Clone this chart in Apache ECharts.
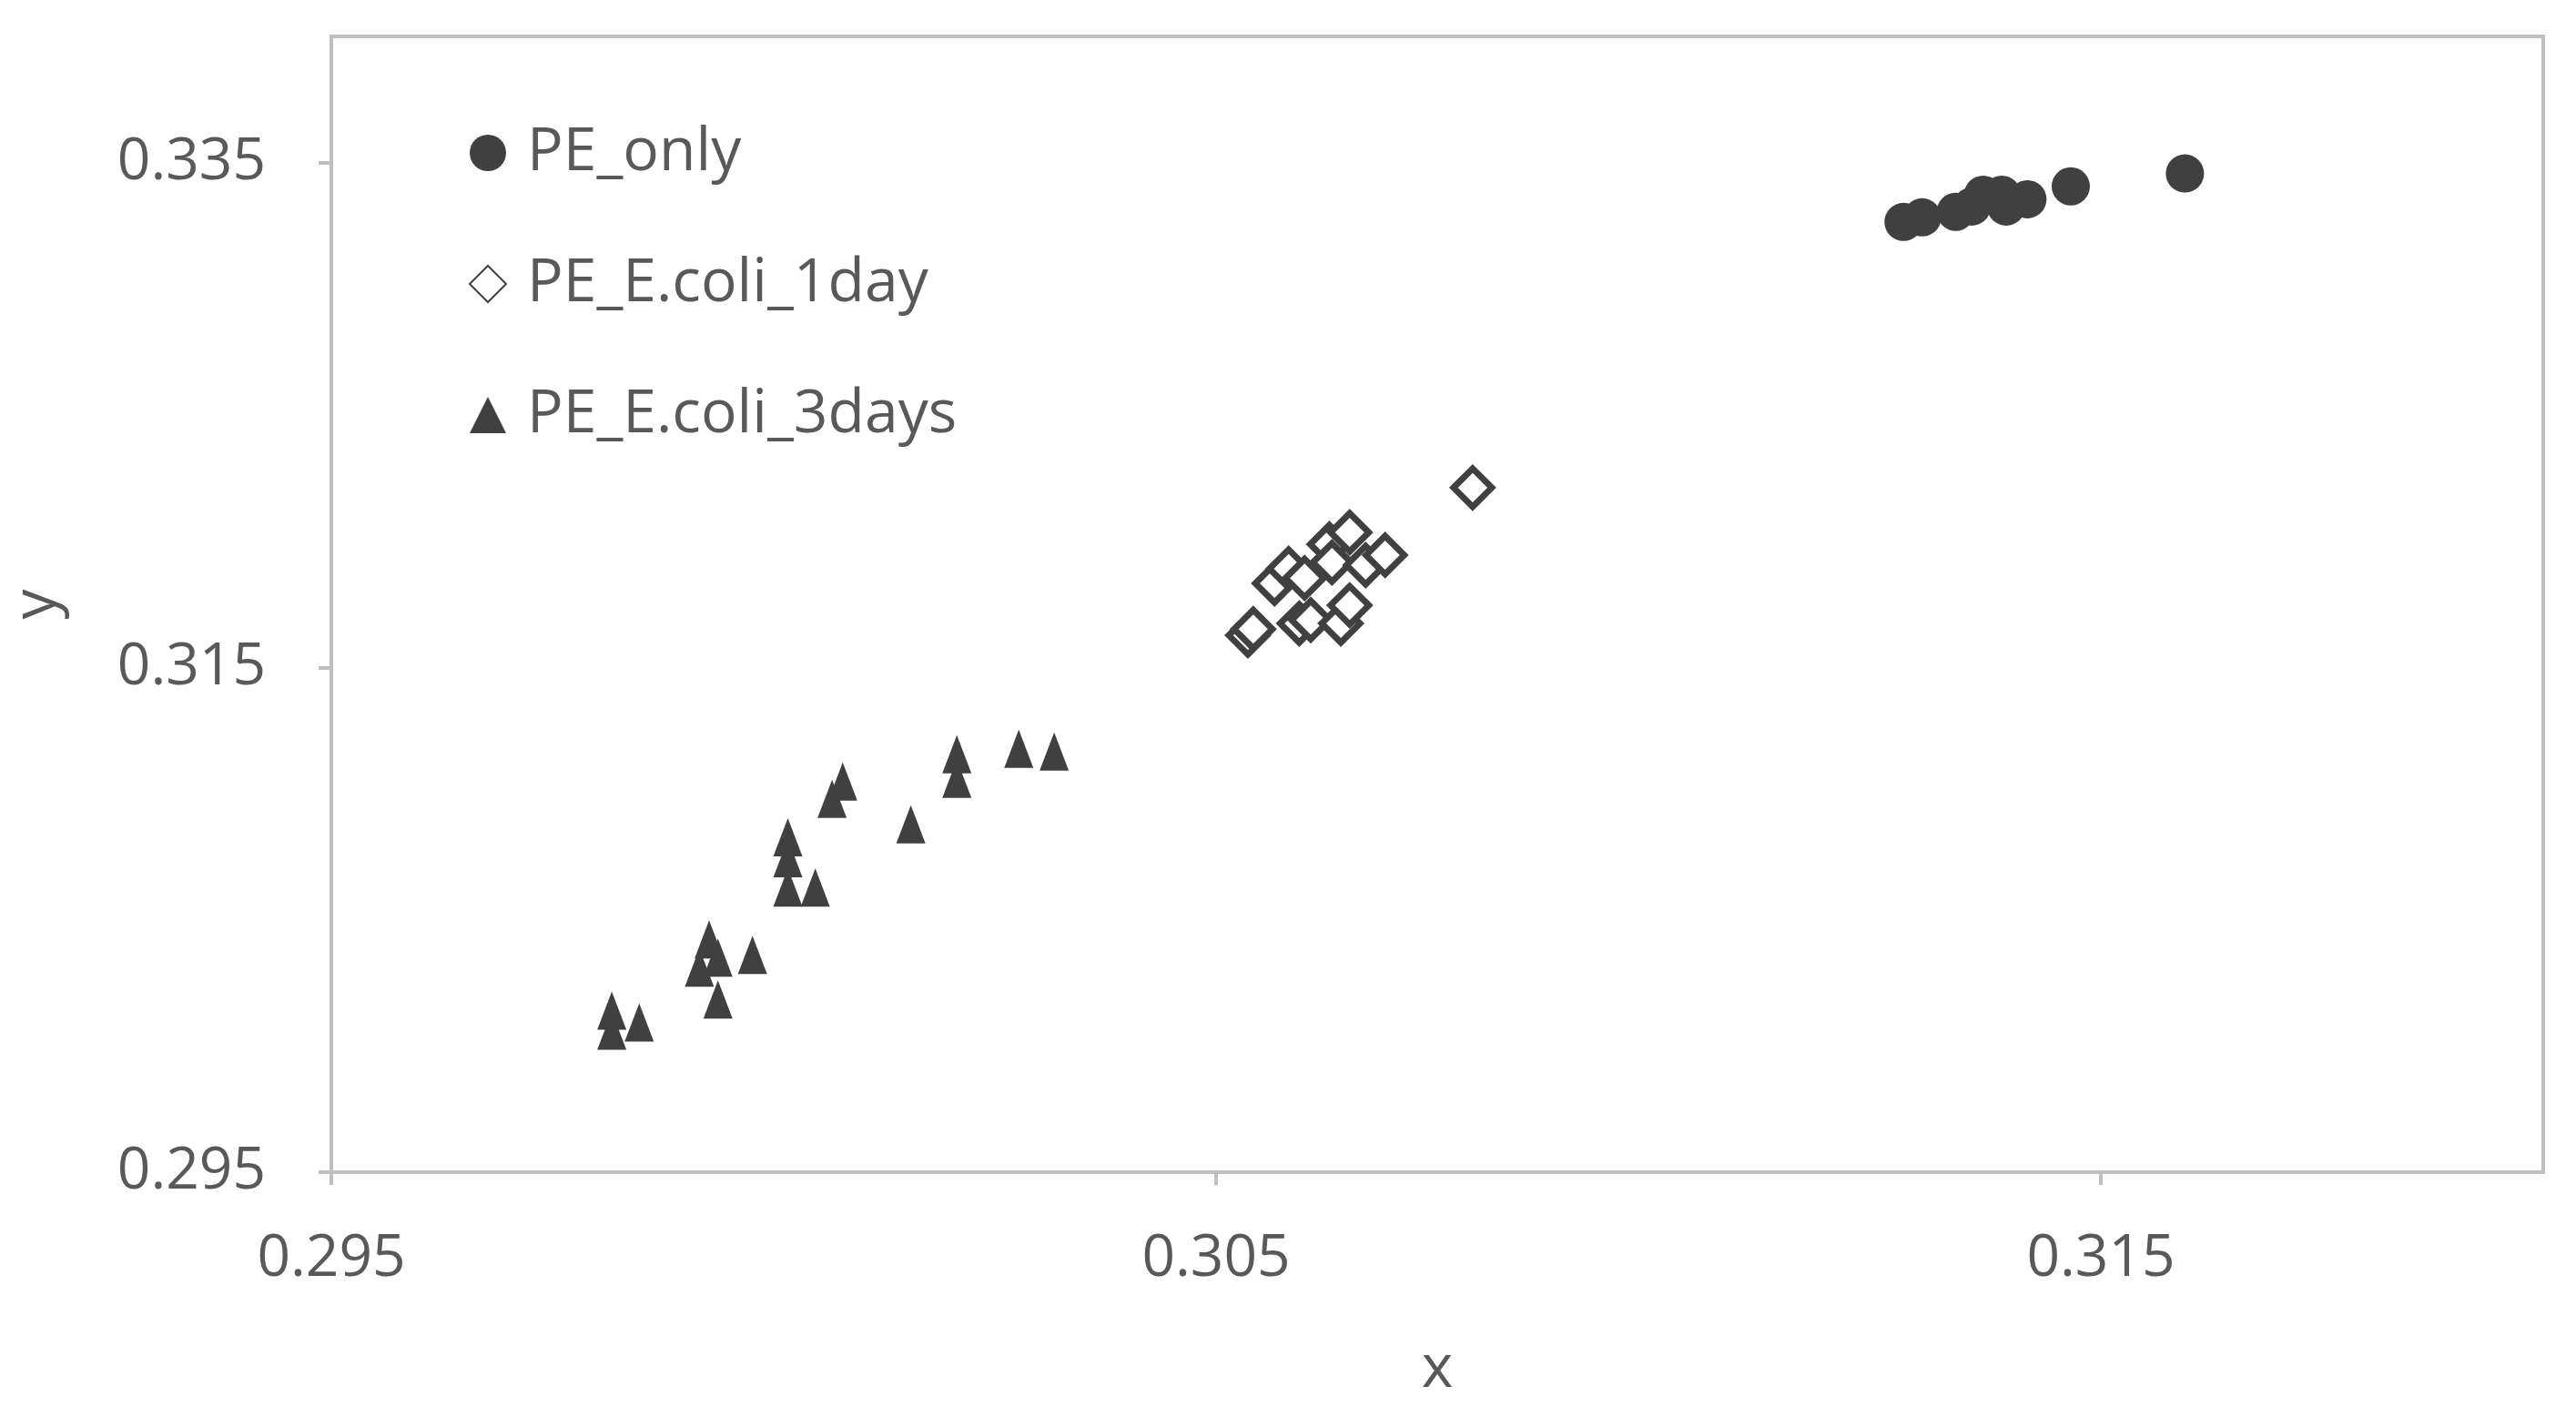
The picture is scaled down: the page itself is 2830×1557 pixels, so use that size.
<!DOCTYPE html>
<html>
<head>
<meta charset="utf-8">
<script src="https://cdn.jsdelivr.net/npm/echarts@6/dist/echarts.min.js"></script>
<style>html,body{margin:0;padding:0;background:#fff}#main{width:2830px;height:1557px}</style>
</head>
<body>
<div id="main"></div>
<script>
// values, [x, y]
const peOnly = [
  [0.31277, 0.33265], [0.31298, 0.33283], [0.31336, 0.33305], [0.31354, 0.33326],
  [0.31367, 0.33373], [0.31388, 0.33373], [0.31393, 0.33326], [0.31417, 0.33355],
  [0.31466, 0.33406], [0.31595, 0.33457]
];
const peEcoli1day = [
  [0.30536, 0.31627], [0.30542, 0.31652], [0.30566, 0.31833], [0.30582, 0.31891],
  [0.30600, 0.31854], [0.30594, 0.31674], [0.30607, 0.31688], [0.30628, 0.31988],
  [0.30631, 0.31916], [0.30651, 0.32035], [0.30641, 0.31674], [0.30651, 0.31746],
  [0.30669, 0.31905], [0.30691, 0.31945], [0.30790, 0.32212]
];
const peEcoli3days = [
  [0.29817, 0.30140], [0.29817, 0.30061], [0.29848, 0.30093], [0.29927, 0.30422],
  [0.29916, 0.30310], [0.29937, 0.30350], [0.29937, 0.30184], [0.29976, 0.30361],
  [0.30016, 0.30827], [0.30016, 0.30744], [0.30016, 0.30628], [0.30047, 0.30628],
  [0.30078, 0.31048], [0.30066, 0.30979], [0.30155, 0.30878], [0.30207, 0.31156],
  [0.30207, 0.31059], [0.30277, 0.31178], [0.30317, 0.31167]
];
const seriesNames = ["PE_only", "PE_E.coli_1day", "PE_E.coli_3days"];

const font = "'Liberation Sans Narrow', 'Open Sans', sans-serif";
const dark = "#404040";
const axisGrey = "#bfbfbf";
const textGrey = "#595959";

function valueAxis(name, min, max, interval, nameGap, labelMargin, extra) {
  return Object.assign({
    type: "value", name: name, nameLocation: "middle", nameGap: nameGap,
    min: min, max: max, interval: interval,
    nameTextStyle: { fontFamily: font, fontSize: 66, color: textGrey },
    axisLine: { show: true, lineStyle: { color: axisGrey, width: 4 } },
    axisTick: { show: true, length: 14, lineStyle: { color: axisGrey, width: 4 } },
    splitLine: { show: false },
    axisLabel: {
      fontFamily: font, fontSize: 64, color: textGrey, margin: labelMargin,
      showMaxLabel: false, formatter: (v) => v.toFixed(3)
    }
  }, extra);
}

let myChart = echarts.init(document.getElementById("main"));
myChart.setOption({
  animation: false,
  backgroundColor: "#fff",
  grid: { left: 357, right: 36, top: 40, bottom: 269, show: true, borderColor: axisGrey, borderWidth: 4 },
  legend: {
    orient: "vertical", left: 510, top: 130, itemGap: 78, itemWidth: 40, itemHeight: 40,
    textStyle: { fontFamily: font, fontSize: 66, color: textGrey, padding: [0, 0, 0, 18] },
    data: seriesNames
  },
  xAxis: valueAxis("x", 0.295, 0.32, 0.01, 184, 64),
  yAxis: valueAxis("y", 0.295, 0.34, 0.02, 290, 72, { nameRotate: 90 }),
  series: [
    { name: seriesNames[0], type: "scatter", data: peOnly, symbol: "circle", symbolSize: 42,
      itemStyle: { color: dark, opacity: 1 } },
    { name: seriesNames[1], type: "scatter", data: peEcoli1day, symbol: "diamond", symbolSize: [42, 42],
      itemStyle: { color: "#fff", borderColor: dark, borderWidth: 7, opacity: 1 } },
    { name: seriesNames[2], type: "scatter", data: peEcoli3days, symbol: "triangle", symbolSize: [32, 42],
      itemStyle: { color: dark, opacity: 1 } }
  ]
});
</script>
</body>
</html>
